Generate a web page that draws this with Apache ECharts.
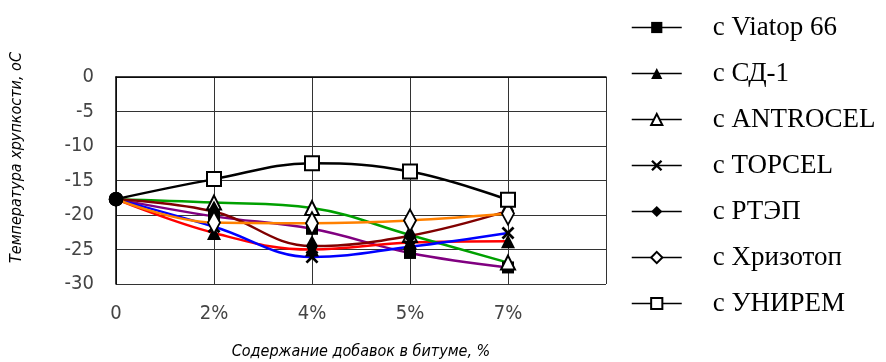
<!DOCTYPE html>
<html>
<head>
<meta charset="utf-8">
<script src="https://cdn.jsdelivr.net/npm/echarts@6/dist/echarts.min.js"></script>
<style>
  html, body { margin: 0; padding: 0; background: #fff; }
  #chart { width: 886px; height: 362px; }
</style>
</head>
<body>
<div id="chart"></div>
<script>
// Additive content in bitumen (x) and brittleness temperature, °C (y)
const categories = ['0', '2%', '4%', '5%', '7%', ''];
const yTicks = [0, -5, -10, -15, -20, -25, -30];

const viatop    = [-17.7, -20.2, -22.0, -25.5, -27.6];
const sd1       = [-17.7, -22.6, -25.0, -24.0, -23.8];
const antrocel  = [-17.7, -18.2, -19.0, -22.9, -26.9];
const topcel    = [-17.7, -21.7, -26.1, -24.6, -22.6];
const rtep      = [-17.7, -19.5, -24.5, -23.0, -19.4];
const hrizotop  = [-17.7, -21.1, -21.2, -20.8, -19.8];
const unirem    = [-17.7, -14.8, -12.5, -13.7, -17.8];

const seriesNames = ['с Viatop 66', 'с СД-1', 'с ANTROCEL', 'с TOPCEL', 'с РТЭП', 'с Хризотоп', 'с УНИРЕМ'];
const seriesData  = [viatop, sd1, antrocel, topcel, rtep, hrizotop, unirem];
const lineColors  = ['#800080', '#ff0000', '#00a000', '#0000ff', '#800000', '#ff8000', '#000000'];

const crossPath = 'path://M0,3 L3,0 L10,7 L17,0 L20,3 L13,10 L20,17 L17,20 L10,13 L3,20 L0,17 L7,10 Z';
const symbols = ['rect', 'triangle', 'emptyTriangle', crossPath, 'diamond', 'emptyDiamond', 'emptyRect'];
const symbolSizes = [12, [14, 14], [14, 14], 13, [12, 22], [12, 22], 14];

const labelFont = "'DejaVu Sans Condensed', 'Liberation Sans Narrow', 'DejaVu Sans', sans-serif";

const series = seriesData.map((vals, i) => ({
  name: seriesNames[i],
  type: 'line',
  smooth: 0.4,
  data: vals.map((v, j) => j === 0 ? { value: v, symbol: 'circle', symbolSize: 12 } : v),
  symbol: symbols[i],
  symbolSize: symbolSizes[i],
  showAllSymbol: true,
  lineStyle: { color: lineColors[i], width: 2.5 },
  itemStyle: { color: '#000', borderColor: '#000', borderWidth: symbols[i].indexOf('empty') === 0 ? 2.5 : 0 },
  z: i === 6 ? 3 : 2,
  animation: false
}));

const chart = echarts.init(document.getElementById('chart'), null, { renderer: 'canvas' });
chart.setOption({
  animation: false,
  backgroundColor: '#fff',
  grid: { left: 116, right: 280, top: 77, bottom: 78, containLabel: false, outerBoundsMode: 'none' },
  legend: {
    orient: 'vertical',
    left: 626,
    top: 9,
    itemWidth: 50,
    itemHeight: 14,
    itemGap: 19,
    data: seriesNames.map(n => ({
      name: n,
      itemStyle: { color: '#000', borderColor: '#000' },
      lineStyle: { color: '#000', width: 1.5 }
    })),
    textStyle: {
      fontFamily: "'Liberation Serif', 'Times New Roman', serif",
      fontSize: 27,
      color: '#000',
      padding: [0, 0, 0, 26]
    }
  },
  xAxis: {
    type: 'category',
    data: categories,
    boundaryGap: false,
    name: 'Содержание добавок в битуме, %',
    nameLocation: 'middle',
    nameGap: 60,
    nameTextStyle: { fontFamily: labelFont, fontStyle: 'italic', fontSize: 16, color: '#000' },
    axisLine: { show: true, lineStyle: { color: '#000', width: 1.5 } },
    axisTick: { show: false },
    axisLabel: { margin: 20, fontFamily: labelFont, fontSize: 20, color: '#444' },
    splitLine: { show: true, lineStyle: { color: '#333', width: 1 } }
  },
  yAxis: {
    type: 'value',
    min: yTicks[yTicks.length - 1],
    max: yTicks[0],
    interval: 5,
    name: 'Температура хрупкости, оС',
    nameLocation: 'middle',
    nameRotate: 90,
    nameGap: 91,
    nameTextStyle: { fontFamily: labelFont, fontStyle: 'italic', fontSize: 16, color: '#000', padding: [0, 0, 0, 46] },
    axisLine: { show: true, lineStyle: { color: '#000', width: 1.5 } },
    axisTick: { show: false },
    axisLabel: { margin: 22, fontFamily: labelFont, fontSize: 20, color: '#444' },
    splitLine: { show: true, lineStyle: { color: '#333', width: 1 } }
  },
  series: series
});
</script>
</body>
</html>
